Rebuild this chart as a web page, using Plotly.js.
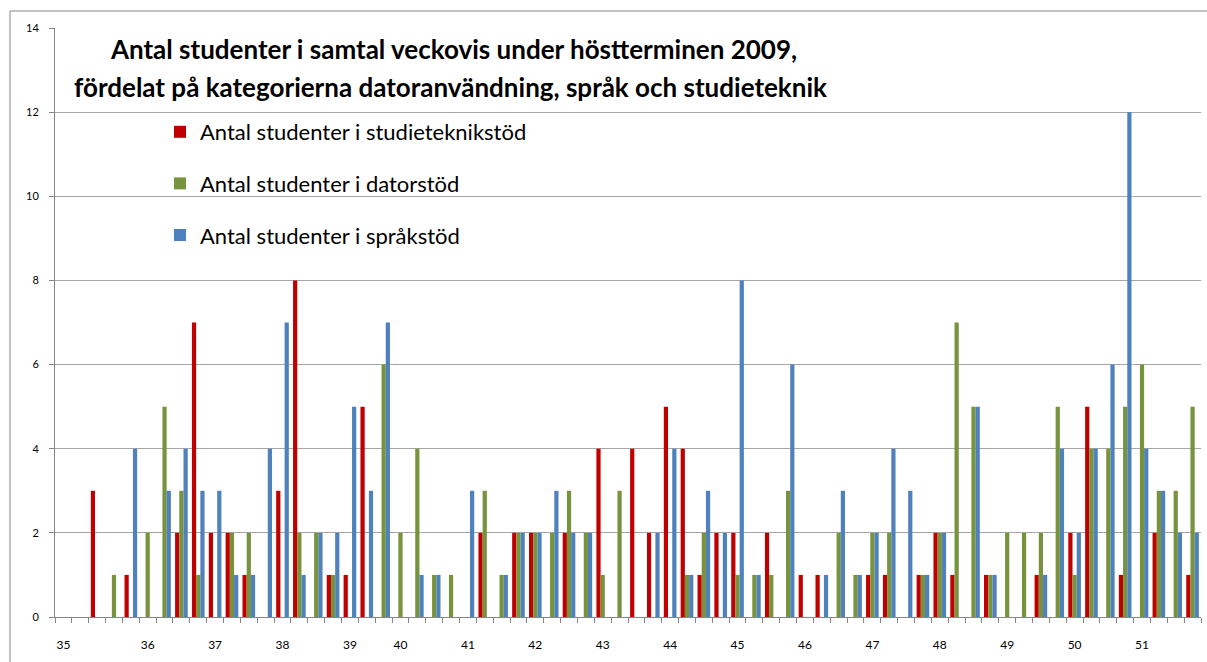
<!DOCTYPE html>
<html>
<head>
<meta charset="utf-8">
<script src="https://cdn.plot.ly/plotly-3.0.1.min.js"></script>
<style>html,body{margin:0;padding:0;background:#fff;}#chart{width:1207px;height:662px;}</style>
</head>
<body>
<div id="chart"></div>
<script>
// Week labels and the day index where each week label is shown
const weekLabels = ['35','36','37','38','39','40','41','42','43','44','45','46','47','48','49','50','51'];
const weekLabelIdx = [0,5,9,13,17,20,24,28,32,36,40,44,48,52,56,60,64];

// Series values per day (68 days)
const studieteknik = [0,0,3,0,1,0,0,2,7,2,2,1,0,3,8,0,1,1,5,0,0,0,0,0,0,2,0,2,2,0,2,0,4,0,4,2,5,4,1,2,2,0,2,0,1,1,0,0,1,1,0,1,2,1,0,1,0,0,1,0,2,5,0,1,0,2,0,1];
const dator        = [0,0,0,1,0,2,5,3,1,0,2,2,0,0,2,2,1,0,0,6,2,4,1,1,0,3,1,2,2,2,3,2,1,3,0,0,0,1,2,0,1,1,1,3,0,0,2,1,2,2,0,1,2,7,5,1,2,2,2,5,1,4,4,5,6,3,3,5];
const sprak        = [0,0,0,0,4,0,3,4,3,3,1,1,4,7,1,2,2,5,3,7,0,1,1,0,3,0,1,2,2,3,2,2,0,0,0,2,4,1,3,2,8,1,0,6,0,1,3,1,2,4,3,1,2,0,5,1,0,0,1,4,2,4,6,12,4,3,2,2];

const seriesNames = ['Antal studenter i studieteknikstöd','Antal studenter i datorstöd','Antal studenter i språkstöd'];
const seriesColors = ['#C00000','#77933C','#4F81BD'];

const days = studieteknik.map((_, i) => i);
const boundaries = days.concat([days.length]).map(i => i - 0.5);
const xRange = [-0.5, days.length - 0.5];

const font = "Lato, 'Open Sans', sans-serif";

const traces = [studieteknik, dator, sprak].map((vals, k) => ({
  type: 'bar',
  x: days,
  y: vals,
  name: seriesNames[k],
  legendgroup: 'g' + k,
  marker: {color: seriesColors[k], line: {width: 0}},
  hoverinfo: 'name+y'
}));

const layout = {
  width: 1207,
  height: 662,
  margin: {l: 55, r: 6, t: 28, b: 45},
  paper_bgcolor: '#ffffff',
  plot_bgcolor: '#ffffff',
  font: {family: font, color: '#000000'},
  barmode: 'group',
  bargap: 0.25,
  bargroupgap: 0,
  title: {
    text: 'Antal studenter i samtal veckovis under höstterminen 2009,',
    font: {family: font, size: 26, color: '#000000', weight: 'bold'},
    x: 454 / 1207, xanchor: 'center', xref: 'container',
    y: 1 - 50 / 662, yanchor: 'middle', yref: 'container'
  },
  annotations: [{
    text: 'fördelat på kategorierna datoranvändning, språk och studieteknik',
    font: {family: font, size: 26, color: '#000000', weight: 'bold'},
    xref: 'paper', yref: 'paper',
    x: (450 - 55) / 1146, y: (617 - 87) / 589,
    xanchor: 'center', yanchor: 'middle', showarrow: false
  }],
  xaxis: {
    range: xRange,
    tickmode: 'array',
    tickvals: boundaries,
    showticklabels: false,
    ticks: 'outside', ticklen: 5, tickcolor: '#868686', tickwidth: 1,
    showline: true, linecolor: '#868686', linewidth: 1,
    showgrid: false, zeroline: false, fixedrange: true
  },
  xaxis2: {
    overlaying: 'x', anchor: 'y', side: 'bottom',
    range: xRange,
    tickmode: 'array',
    tickvals: weekLabelIdx,
    ticktext: weekLabels,
    ticks: 'outside', ticklen: 17, tickcolor: 'rgba(0,0,0,0)',
    tickfont: {family: font, size: 12, color: '#000000'},
    showline: false, showgrid: false, zeroline: false, fixedrange: true
  },
  yaxis: {
    range: [0, 14],
    tick0: 0, dtick: 2,
    ticks: 'outside', ticklen: 5, tickcolor: '#868686',
    tickfont: {family: font, size: 11, color: '#000000'},
    ticklabelstandoff: 8,
    showline: true, linecolor: '#868686', linewidth: 1,
    showgrid: true, gridcolor: '#a6a6a6', gridwidth: 1,
    zeroline: false, fixedrange: true
  },
  legend: {
    x: (160 - 55) / 1146, y: (617 - 111) / 589,
    xanchor: 'left', yanchor: 'top',
    bgcolor: 'rgba(255,255,255,0)',
    borderwidth: 0,
    font: {family: font, size: 22, color: '#000000'},
    tracegroupgap: 20,
    traceorder: 'grouped'
  },
  shapes: [{
    type: 'rect', xref: 'paper', yref: 'paper',
    x0: (10 - 55) / 1146, x1: 1.2,
    y0: -0.3, y1: (617 - 11) / 589,
    line: {color: '#868686', width: 1},
    fillcolor: 'rgba(0,0,0,0)', layer: 'below'
  }]
};

// empty trace so the week-label axis is drawn
traces.push({type: 'scatter', x: [], y: [], xaxis: 'x2', yaxis: 'y', showlegend: false, hoverinfo: 'skip'});

Plotly.newPlot('chart', traces, layout, {displayModeBar: false, staticPlot: true});
</script>
</body>
</html>
